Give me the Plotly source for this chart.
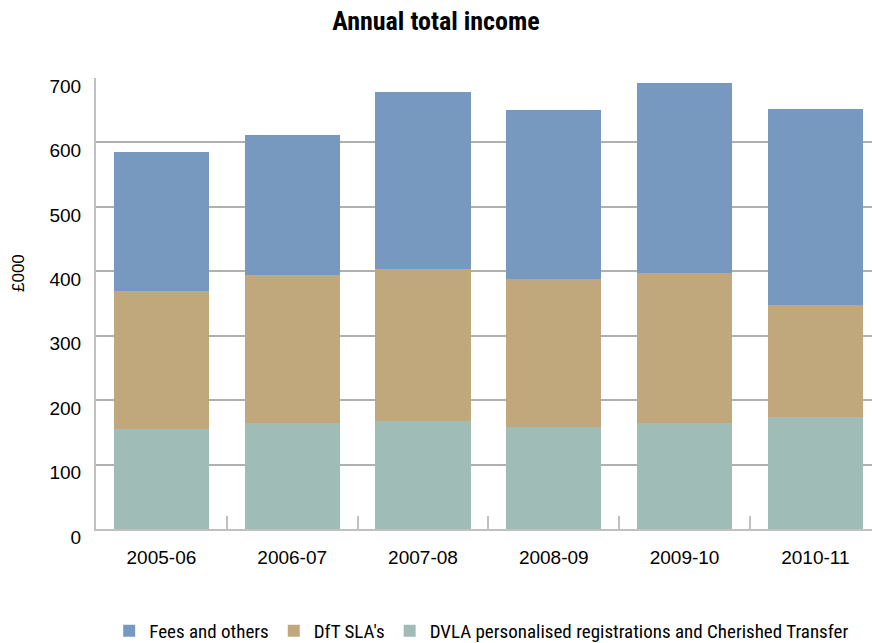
import plotly.graph_objects as go

# Annual total income by source (£000)
years = ["2005-06", "2006-07", "2007-08", "2008-09", "2009-10", "2010-11"]
dvla = [155, 164, 167, 158, 165, 174]
dft = [215, 230, 237, 230, 233, 174]
fees = [215, 218, 275, 263, 295, 304]

series_names = [
    "Fees and others",
    "DfT SLA's",
    "DVLA personalised registrations and Cherished Transfer",
]
colors = ["#7899bf", "#c1a87c", "#9fbcb7"]

narrow = "Liberation Sans Narrow, Arial Narrow, Roboto Condensed, Liberation Sans, sans-serif"
regular = "Liberation Sans, Arial, sans-serif"

fig = go.Figure()
# stacked bottom-to-top; legend order reversed so Fees comes first
for name, vals, col, rank in [
    (series_names[2], dvla, colors[2], 3),
    (series_names[1], dft, colors[1], 2),
    (series_names[0], fees, colors[0], 1),
]:
    fig.add_trace(go.Bar(
        x=years, y=vals, name=name,
        marker=dict(color=col, line=dict(width=0)),
        width=0.727, legendrank=rank,
    ))

fig.update_layout(
    width=872, height=643,
    barmode="stack",
    paper_bgcolor="white", plot_bgcolor="white",
    margin=dict(l=96, r=0, t=78, b=114, autoexpand=False),
    title=dict(
        text="<b>Annual total income</b>",
        x=0.5, xref="container", xanchor="center",
        y=0.967, yref="container", yanchor="middle",
        font=dict(family=narrow, size=26, color="black"),
    ),
    showlegend=True,
    legend=dict(
        orientation="h", x=0.5524, xref="container", xanchor="center",
        y=(643 - 631) / 643, yref="container", yanchor="middle",
        font=dict(family=narrow, size=19, color="black"),
        traceorder="normal", itemwidth=30,
    ),
    font=dict(family=regular, color="black"),
)

fig.update_xaxes(
    type="category",
    range=[-0.5, 5.433],
    tickson="boundaries",
    ticks="inside", ticklen=13, tickwidth=2, tickcolor="#c0c0c0",
    showline=True, linecolor="#c0c0c0", linewidth=2,
    showgrid=False,
    tickfont=dict(family=regular, size=19, color="black"),
    ticklabelstandoff=10,
)

fig.update_yaxes(
    range=[0, 700],
    tickvals=[0, 100, 200, 300, 400, 500, 600, 700],
    showgrid=True, gridcolor="#b0b0b0", gridwidth=1.5,
    showline=True, linecolor="#c0c0c0", linewidth=2,
    zeroline=False,
    ticks="",
    tickfont=dict(family=regular, size=19, color="black"),
    ticklabelstandoff=9,
    ticklabelshift=8,
)

fig.add_annotation(
    text="£000", textangle=-90,
    xref="paper", yref="paper",
    x=(18 - 96) / 776, y=(529 - 273) / 451,
    xanchor="center", yanchor="middle",
    showarrow=False,
    font=dict(family=regular, size=17, color="black"),
)

fig.write_html("out.html")
